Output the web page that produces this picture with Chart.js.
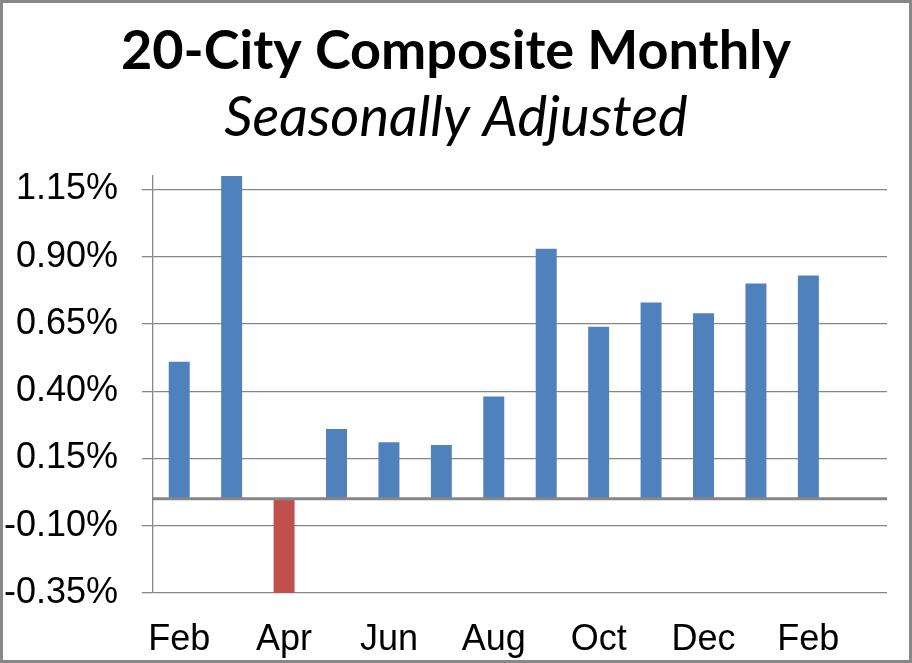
<!DOCTYPE html>
<html>
<head>
<meta charset="utf-8">
<script src="https://cdn.jsdelivr.net/npm/chart.js@4"></script>
<style>
  html, body { margin: 0; padding: 0; background: #fff; }
  #frame {
    width: 912px; height: 663px; box-sizing: border-box;
    border: 3px solid #888888; background: #fff;
  }
  #frame canvas { display: block; }
</style>
</head>
<body>
<div id="frame"><canvas id="Chart" width="906" height="657"></canvas></div>
<script>
'use strict';
// ********************* DATA ********************
let months = ['Feb', 'Mar', 'Apr', 'May', 'Jun', 'Jul', 'Aug', 'Sep', 'Oct', 'Nov', 'Dec', 'Jan', 'Feb', 'Mar'];
let monthlyChange = [0.51, 1.20, -0.35, 0.26, 0.21, 0.20, 0.38, 0.93, 0.64, 0.73, 0.69, 0.80, 0.83, null];
let yTicks = [-0.35, -0.10, 0.15, 0.40, 0.65, 0.90, 1.15];

let canvasElem = document.getElementById('Chart');

// ********************* ZERO LINE PLUGIN ********************
let zeroLine = {
  id: 'zeroLine',
  afterDatasetsDraw(chart) {
    let ctx = chart.ctx;
    let area = chart.chartArea;
    let y = chart.scales.y.getPixelForValue(0);
    ctx.save();
    ctx.strokeStyle = '#868686';
    ctx.lineWidth = 3;
    ctx.beginPath();
    ctx.moveTo(area.left, y);
    ctx.lineTo(area.right, y);
    ctx.stroke();
    ctx.restore();
  }
};

// ********************* THIS FUNCTION RENDERS THE CHART ********************
function renderChart() {
  let chartObj = {
    type: 'bar',
    data: {
      labels: months,
      datasets: [{
        data: monthlyChange,
        backgroundColor: ctx => (ctx.raw < 0 ? '#C0504D' : '#4F81BD'),
        categoryPercentage: 1,
        barPercentage: 0.4,
        borderWidth: 0
      }]
    },
    options: {
      responsive: false,
      animation: false,
      layout: { padding: 0 },
      plugins: {
        legend: { display: false },
        tooltip: { enabled: false },
        title: {
          display: true,
          text: '20-City Composite Monthly',
          color: '#000',
          font: { family: 'Lato', size: 54, weight: 'bold', lineHeight: 1.2 },
          padding: { top: 16, bottom: 0 }
        },
        subtitle: {
          display: true,
          text: 'Seasonally Adjusted',
          color: '#000',
          font: { family: 'Lato', size: 56, style: 'italic', weight: 'normal', lineHeight: 1.2 },
          padding: { top: 1, bottom: 24 }
        }
      },
      scales: {
        x: {
          afterFit: scale => { scale.height = 67; },
          grid: { display: false },
          border: { display: false },
          ticks: {
            color: '#000',
            font: { family: 'Liberation Sans', size: 36 },
            padding: 17,
            autoSkip: false,
            maxRotation: 0,
            callback: function (val, i) { return i % 2 === 0 ? this.getLabelForValue(val) : ''; }
          }
        },
        y: {
          min: -0.35,
          max: 1.2,
          afterFit: scale => { scale.width = 150; },
          afterBuildTicks: scale => { scale.ticks = yTicks.map(v => ({ value: v })); },
          grid: { color: '#868686', lineWidth: 1.3, tickLength: 11 },
          border: { display: true, color: '#868686', width: 1.3 },
          ticks: {
            color: '#000',
            font: { family: 'Liberation Sans', size: 36 },
            padding: 24,
            callback: v => v.toFixed(2) + '%'
          }
        },
        // empty right axis, only keeps a margin on the right of the plot
        yRight: {
          position: 'right',
          afterFit: scale => { scale.width = 22; },
          grid: { display: false },
          border: { display: false },
          ticks: { display: false }
        }
      }
    },
    plugins: [zeroLine]
  };
  new Chart(canvasElem, chartObj);
}

// ******************** EXECUTABLE CODE **************************
renderChart();
</script>
</body>
</html>
